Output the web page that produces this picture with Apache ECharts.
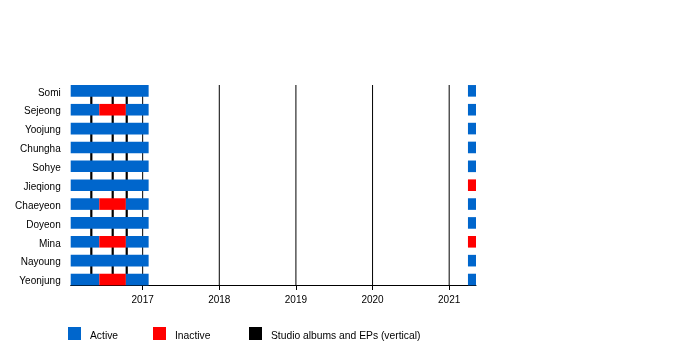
<!DOCTYPE html>
<html>
<head>
<meta charset="utf-8">
<script src="https://cdn.jsdelivr.net/npm/echarts@6/dist/echarts.min.js"></script>
<style>html,body{margin:0;padding:0;background:#fff}#c{width:700px;height:350px}</style>
</head>
<body>
<div id="c"></div>
<script>
// ---- data ----
const members = ['Somi','Sejeong','Yoojung','Chungha','Sohye','Jieqiong','Chaeyeon','Doyeon','Mina','Nayoung','Yeonjung'];
const yearTicks = [2017, 2018, 2019, 2020, 2021];
const albumReleases = [2016.330, 2016.609, 2016.792];
// [member, start, end]
const activeSpans = [
  ['Somi', 2016.061, 2017.078],
  ['Sejeong', 2016.061, 2016.434], ['Sejeong', 2016.779, 2017.078],
  ['Yoojung', 2016.061, 2017.078],
  ['Chungha', 2016.061, 2017.078],
  ['Sohye', 2016.061, 2017.078],
  ['Jieqiong', 2016.061, 2017.078],
  ['Chaeyeon', 2016.061, 2016.434], ['Chaeyeon', 2016.779, 2017.078],
  ['Doyeon', 2016.061, 2017.078],
  ['Mina', 2016.061, 2016.434], ['Mina', 2016.779, 2017.078],
  ['Nayoung', 2016.061, 2017.078],
  ['Yeonjung', 2016.061, 2016.434], ['Yeonjung', 2016.779, 2017.078],
  ['Somi', 2021.245, 2021.35],
  ['Sejeong', 2021.245, 2021.35],
  ['Yoojung', 2021.245, 2021.35],
  ['Chungha', 2021.245, 2021.35],
  ['Sohye', 2021.245, 2021.35],
  ['Chaeyeon', 2021.245, 2021.35],
  ['Doyeon', 2021.245, 2021.35],
  ['Nayoung', 2021.245, 2021.35],
  ['Yeonjung', 2021.245, 2021.35]
];
const inactiveSpans = [
  ['Sejeong', 2016.434, 2016.779],
  ['Chaeyeon', 2016.434, 2016.779],
  ['Mina', 2016.434, 2016.779],
  ['Yeonjung', 2016.434, 2016.779],
  ['Jieqiong', 2021.245, 2021.35],
  ['Mina', 2021.245, 2021.35]
];
const xMin = 2016.061, xMax = 2021.35;

// ---- chart ----
const FONT = 'Liberation Sans, Arial, sans-serif';
const toRows = spans => spans.map(s => [members.indexOf(s[0]), s[1], s[2]]);

function renderBar(params, api) {
  const row = api.value(0), s = api.value(1), e = api.value(2);
  const p0 = api.coord([s, row]);
  const p1 = api.coord([e, row]);
  const h = api.size([0, 1])[1] * 0.615;
  return {
    type: 'rect',
    shape: { x: p0[0], y: p0[1] - h / 2, width: p1[0] - p0[0], height: h },
    style: { fill: api.visual('color') }
  };
}
function makeVLine(width) {
  return function (params, api) {
    const x = api.coord([api.value(0), 0])[0];
    const cs = params.coordSys;
    return {
      type: 'line',
      shape: { x1: x, y1: cs.y, x2: x, y2: cs.y + cs.height },
      style: { stroke: '#000', lineWidth: width }
    };
  };
}
function legendAt(name, left) {
  return {
    data: [name], left: left, top: 327, padding: 0,
    icon: 'rect', itemWidth: 13, itemHeight: 13,
    selectedMode: false,
    formatter: n => '{t|' + n + '}',
    textStyle: {
      fontSize: 10.3, color: '#000', fontFamily: FONT,
      rich: { t: { fontSize: 10.3, color: '#000', fontFamily: FONT, padding: [5, 0, 0, 4] } }
    }
  };
}

const chart = echarts.init(document.getElementById('c'), null, { renderer: 'canvas' });
chart.setOption({
  backgroundColor: '#fff',
  animation: false,
  textStyle: { fontFamily: FONT },
  grid: { left: 70.7, right: 224, top: 85, bottom: 65 },
  legend: [
    legendAt('Active', 68),
    legendAt('Inactive', 153),
    legendAt('Studio albums and EPs (vertical)', 249)
  ],
  xAxis: {
    type: 'value', min: xMin, max: xMax,
    axisLine: { onZero: false, lineStyle: { color: '#000', width: 1 } },
    axisTick: { show: true, customValues: yearTicks, length: 5, lineStyle: { color: '#000' } },
    axisLabel: { customValues: yearTicks, fontSize: 10, color: '#000', margin: 10, fontFamily: FONT,
      formatter: v => String(Math.round(v)) },
    splitLine: { show: false }
  },
  yAxis: {
    type: 'value', inverse: true, min: -0.31, max: 10.29,
    axisLine: { show: false }, axisTick: { show: false }, splitLine: { show: false },
    axisLabel: {
      customValues: members.map((m, i) => i), fontSize: 10, color: '#000', margin: 10, fontFamily: FONT,
      formatter: v => '{n|' + (members[Math.round(v)] || '') + '}',
      rich: { n: { fontSize: 10, color: '#000', fontFamily: FONT, padding: [4, 0, 0, 0] } }
    }
  },
  series: [
    {
      name: 'yeargrid', type: 'custom', silent: true, z: 1,
      renderItem: makeVLine(1), encode: { x: 0 },
      data: yearTicks.map(v => [v])
    },
    {
      name: 'Studio albums and EPs (vertical)', type: 'custom', silent: true, z: 2,
      itemStyle: { color: '#000' },
      renderItem: makeVLine(2.2), encode: { x: 0 },
      data: albumReleases.map(v => [v])
    },
    {
      name: 'Active', type: 'custom', z: 3, itemStyle: { color: '#0066cc' },
      renderItem: renderBar, encode: { x: [1, 2], y: 0 },
      data: toRows(activeSpans)
    },
    {
      name: 'Inactive', type: 'custom', z: 4, itemStyle: { color: '#ff0000' },
      renderItem: renderBar, encode: { x: [1, 2], y: 0 },
      data: toRows(inactiveSpans)
    }
  ]
});
</script>
</body>
</html>
